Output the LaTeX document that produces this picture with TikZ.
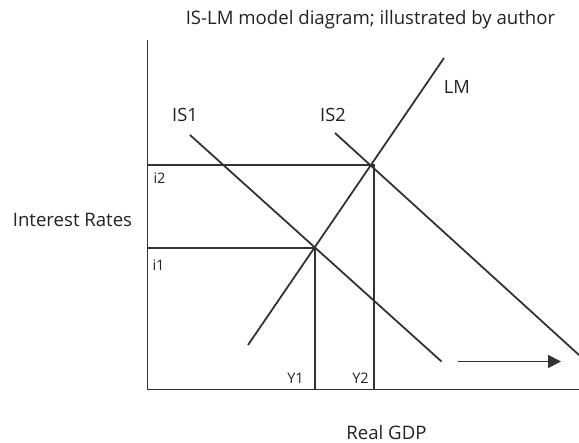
\documentclass[tikz,border=0pt]{standalone}
\usepackage{fontspec}
\setmainfont{Open Sans}
\usetikzlibrary{arrows.meta}
\definecolor{ink}{HTML}{333333}
\definecolor{txt}{HTML}{222222}
\tikzset{
  curve/.style={draw=ink, line width=1.8pt},
  guide/.style={draw=ink, line width=1.8pt},
  lbl/.style={text=txt, inner sep=0pt, font=\fontsize{18.3}{21}\selectfont},
  small/.style={text=txt, inner sep=0pt, font=\fontsize{14.5}{16}\selectfont},
  axislbl/.style={text=txt, inner sep=0pt, font=\fontsize{18.6}{21}\selectfont}
}
\begin{document}
\begin{tikzpicture}[x=1pt, y=-1pt]
\useasboundingbox (0,0) rectangle (579,443);
% axes
\coordinate (top) at (147.5,40);
\coordinate (orig) at (147.5,389.5);
\coordinate (xend) at (579,389.5);
\draw[guide] (top) -- (orig) -- (xend);
% equilibria
\coordinate (E1) at (315,248);
\coordinate (E2) at (374,165);
\coordinate (i1) at (147.5,248);
\coordinate (i2) at (147.5,165);
\coordinate (y1) at (315,389.5);
\coordinate (y2) at (374,389.5);
\draw[guide] (i2) -- (E2) -- (y2);
\draw[guide] (i1) -- (E1) -- (y1);
% LM
\coordinate (lmA) at (248,345);
\coordinate (lmB) at (444,58);
\draw[curve] (lmA) -- (lmB);
% IS1
\coordinate (is1A) at (190,135);
\coordinate (is1B) at (441.5,361.5);
\draw[curve] (is1A) -- (is1B);
% IS2
\coordinate (is2A) at (335,133);
\coordinate (is2B) at (579,355);
\draw[curve] (is2A) -- (is2B);
% arrow
\coordinate (arA) at (458,361.5);
\coordinate (arB) at (561,361.5);
\draw[curve, -{Triangle[length=13pt,width=13pt]}] (arA) -- (arB);
% labels
\node[axislbl] (title) at (370.5,20) {IS-LM model diagram; illustrated by author};
\node[axislbl] (yl) at (72.5,220) {Interest Rates};
\node[axislbl, anchor=base] (xl) at (386.5,440) {Real GDP};
\node[lbl] (lis1) at (185,115) {IS1};
\node[lbl] (lis2) at (333,115) {IS2};
\node[lbl] (llm) at (457,87) {LM};
\node[small] (li2) at (159.5,178) {i2};
\node[small] (li1) at (158.5,265) {i1};
\node[small] (ly1) at (295.5,378.5) {Y1};
\node[small] (ly2) at (360.5,378.5) {Y2};
\end{tikzpicture}
\end{document}
